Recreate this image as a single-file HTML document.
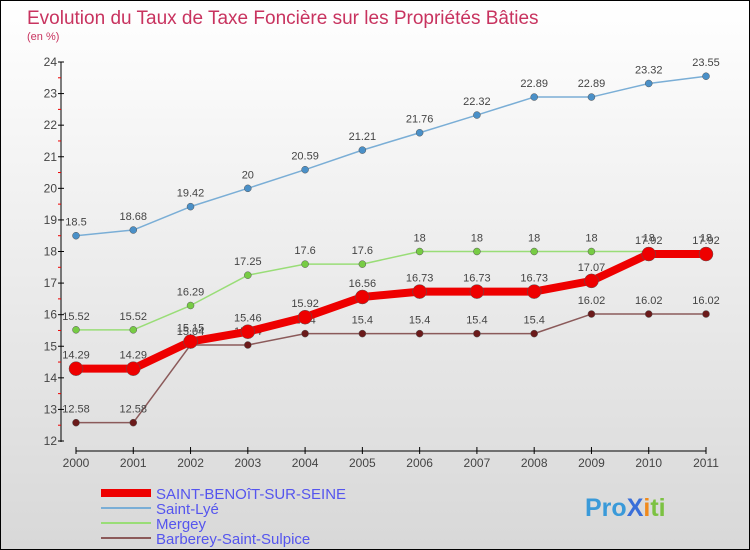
<!DOCTYPE html>
<html><head><meta charset="utf-8"><style>
body{margin:0}
#c{width:748px;height:548px;border:1px solid #000;background:linear-gradient(#fff,#d8d8d8);position:relative;font-family:"Liberation Sans",sans-serif}
svg{position:absolute;left:0;top:0}
</style></head><body>
<div id="c">
<svg id="s" width="748" height="548">
<text x="26" y="23" font-size="19" fill="#c8335f">Evolution du Taux de Taxe Foncière sur les Propriétés Bâties</text>
<text x="26" y="39" font-size="11" fill="#c8335f">(en %)</text>
<g id="ax"></g><g id="series"></g><g id="legend"></g>
<text x="584" y="515" font-size="25" font-weight="bold" fill="#3a9ad9">Pro<tspan fill="#3a6fd9">X</tspan><tspan fill="#f08a1c">i</tspan><tspan fill="#7cc242">ti</tspan></text>
</svg></div>
<script>
const years=[2000,2001,2002,2003,2004,2005,2006,2007,2008,2009,2010,2011];
const yTicks=[12,13,14,15,16,17,18,19,20,21,22,23,24];
const benoit=[14.29,14.29,15.15,15.46,15.92,16.56,16.73,16.73,16.73,17.07,17.92,17.92];
const lye=[18.5,18.68,19.42,20,20.59,21.21,21.76,22.32,22.89,22.89,23.32,23.55];
const mergey=[15.52,15.52,16.29,17.25,17.6,17.6,18,18,18,18,18,18];
const barberey=[12.58,12.58,15.04,15.04,15.4,15.4,15.4,15.4,15.4,16.02,16.02,16.02];
const NS="http://www.w3.org/2000/svg";
const X=i=>75+i*(630/11), Y=v=>440-(v-12)*(379/12);
function mk(t,a,p){const e=document.createElementNS(NS,t);for(const k in a)e.setAttribute(k,a[k]);p.appendChild(e);return e;}
const ax=document.getElementById('ax');
let e=mk('line',{x1:60,y1:Y(24),x2:60,y2:Y(12)+1,stroke:'#000'},ax);

e=mk('line',{x1:X(0),y1:450,x2:X(11),y2:450,stroke:'#000'},ax);

yTicks.forEach(v=>{mk('line',{x1:57,x2:63,y1:Y(v),y2:Y(v),stroke:'#000'},ax);
 if(v<24)mk('line',{x1:57,x2:60,y1:Y(v+0.5),y2:Y(v+0.5),stroke:'#e00'},ax);
 const t=mk('text',{x:56,y:Y(v)+4,'font-size':12,fill:'#444','text-anchor':'end'},ax);t.textContent=v;
 });
years.forEach((y,i)=>{mk('line',{x1:X(i),x2:X(i),y1:446,y2:453,stroke:'#000'},ax);
 const t=mk('text',{x:X(i),y:466,'font-size':12,fill:'#444','text-anchor':'middle'},ax);t.textContent=y;
 });
const sg=document.getElementById('series');
function series(d,col,w,r,dot,name){
 const g=mk('g',{},sg);
 const p=mk('polyline',{points:d.map((v,i)=>X(i)+','+Y(v)).join(' '),fill:'none',stroke:col,'stroke-width':w,'stroke-linejoin':'round'},g);
 
 d.forEach((v,i)=>{const c=mk('circle',{cx:X(i),cy:Y(v),r:r,fill:dot,stroke:'#555','stroke-width':0.5},g);
  
  const t=mk('text',{x:X(i),y:Y(v)-10,'font-size':11,fill:'#444','text-anchor':'middle'},g);t.textContent=v;
  });
}
series(lye,'#7aaed6',1.5,3.5,'#4a90c8','saint-lye');
series(mergey,'#99dd77',1.5,3.5,'#77cc44','mergey');
series(barberey,'#8b5a5a',1.5,3.5,'#6b1a1a','barberey');
series(benoit,'#ee0000',8,7,'#ee0000','saint-benoit');
const lg=document.getElementById('legend');
[['SAINT-BENOîT-SUR-SEINE','#ee0000',8],['Saint-Lyé','#7aaed6',2],['Mergey','#99dd77',2],['Barberey-Saint-Sulpice','#8b5a5a',2]].forEach((l,i)=>{
 const y=492+i*15;
 const ln=mk('line',{x1:100,x2:150,y1:y,y2:y,stroke:l[1],'stroke-width':l[2]},lg);
 
 const t=mk('text',{x:155,y:y+6,'font-size':15,fill:'#5555ee'},lg);t.textContent=l[0];
 });
</script></body></html>
